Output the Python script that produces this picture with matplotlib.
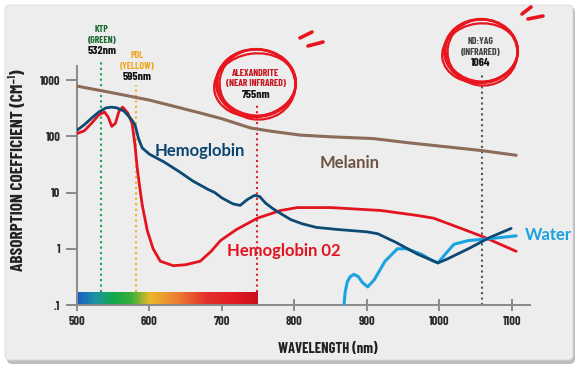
import numpy as np
import matplotlib
matplotlib.use("Agg")
import matplotlib.pyplot as plt
from matplotlib.patches import FancyBboxPatch, Ellipse
from matplotlib.colors import LinearSegmentedColormap

# absorption spectra (wavelength nm, coefficient cm^-1)
hb_wl = [500, 510, 520, 530, 540, 548, 555, 565, 575, 580, 585, 590, 600, 620, 640, 660, 680,
         690, 700, 715, 725, 735, 745, 752, 760, 770, 780, 795, 810, 830, 860, 900, 915, 940,
         970, 998, 1010, 1040, 1070, 1099]
hb_val = [128, 160, 210, 270, 320, 330, 320, 280, 200, 160, 90, 62, 48, 35, 24, 16, 11.5,
          10, 8, 6.3, 5.9, 7.5, 8.9, 8.5, 6.5, 5.2, 4.3, 3.3, 2.8, 2.4, 2.2, 2.0, 1.85, 1.3,
          0.8, 0.56, 0.65, 1.0, 1.6, 2.3]

hbo2_wl = [500, 510, 520, 530, 538, 543, 548, 553, 558, 563, 570, 576, 580, 583, 586, 590, 597,
           605, 615, 633, 650, 670, 685, 698, 720, 749, 781, 804, 850, 919, 970, 992, 1030,
           1062, 1106]
hbo2_val = [112, 125, 170, 240, 270, 220, 150, 170, 280, 330, 260, 170, 70, 28, 14, 6, 2.1,
            1.0, 0.6, 0.5, 0.52, 0.6, 0.9, 1.4, 2.2, 3.5, 4.8, 5.4, 5.4, 4.8, 3.9, 3.5, 2.3,
            1.6, 0.9]

water_wl = [868, 870, 873, 877, 882, 888, 894, 901, 910, 925, 942, 955, 975, 990, 998, 1008,
            1020, 1040, 1067, 1106]
water_val = [0.09, 0.17, 0.26, 0.32, 0.35, 0.32, 0.25, 0.21, 0.28, 0.6, 1.0, 1.0, 0.8, 0.62,
             0.56, 0.8, 1.2, 1.4, 1.5, 1.7]

mel_wl = [500, 550, 600, 670, 700, 740, 770, 808, 850, 909, 960, 1000, 1057, 1106]
mel_val = [780, 590, 440, 260, 205, 140, 122, 105, 98, 91, 76, 67, 56, 46]

# laser lines: position drawn, label lines
laser_x = [533, 582, 748, 1059]
laser_names = ["KTP\n(GREEN)", "PDL\n(YELLOW)", "ALEXANDRITE\n(NEAR INFRARED)", "ND:YAG\n(INFRARED)"]
laser_nm = ["532nm", "595nm", "755nm", "1064"]

y_ticks = [0.1, 1, 10, 100, 1000]
y_ticklabels = [".1", "1", "10", "100", "1000"]
x_ticks = [500, 600, 700, 800, 900, 1000, 1100]

cond = ["Barlow Condensed", "Roboto Condensed", "DejaVu Sans"]
sans = ["Lato", "DejaVu Sans"]
W, H = 580, 368

fig = plt.figure(figsize=(5.8, 3.68), dpi=100)
fig.patch.set_facecolor("white")

# background card
bg = fig.add_axes([0, 0, 1, 1], zorder=0)
bg.set_xlim(0, W)
bg.set_ylim(H, 0)
bg.axis("off")
bg.add_patch(FancyBboxPatch((7, 7), 568, 357, boxstyle="round,pad=0,rounding_size=5",
                            fc="#bdbdbd", ec="none"))
bg.add_patch(FancyBboxPatch((5, 5), 568, 355, boxstyle="round,pad=0,rounding_size=5",
                            fc="#ededed", ec="#d8d8d8", lw=0.6))

ax = fig.add_axes([77 / W, (H - 305) / H, (530 - 77) / W, (305 - 66) / H], zorder=1)
ax.patch.set_alpha(0)
ax.set_yscale("log")
ax.set_xlim(500, 1125)
ax.set_ylim(0.1, 10 ** 3.25)

for s in ["top", "right"]:
    ax.spines[s].set_visible(False)
for s in ["left", "bottom"]:
    ax.spines[s].set_color("#8a8a8a")
    ax.spines[s].set_linewidth(1.4)
ax.set_yticks(y_ticks)
ax.set_yticklabels(y_ticklabels)
ax.yaxis.set_minor_locator(matplotlib.ticker.NullLocator())
ax.set_xticks(x_ticks)
ax.tick_params(axis="both", width=1.4, color="#8a8a8a", labelsize=9,
               labelcolor="#2b2b2b", pad=4)
ax.tick_params(axis="x", direction="inout", length=8)
ax.tick_params(axis="y", direction="out", length=8)
for lab in ax.get_xticklabels() + ax.get_yticklabels():
    lab.set_family(cond)
    lab.set_fontweight("bold")

ax.set_ylabel("ABSORPTION COEFFICIENT (CM⁻¹)", family=cond, fontweight="bold",
              fontsize=12.5, color="#222222")
ax.yaxis.set_label_coords((26 - 77) / 453, 0.565)
fig.text(328 / W, 1 - 349 / H, "WAVELENGTH (nm)", family=cond, fontweight="bold",
         fontsize=10.5, color="#222222", ha="center", va="center")

# visible spectrum bar along the bottom
spec = LinearSegmentedColormap.from_list("spec", [
    (0.0, "#1a60c4"), (0.1, "#1a95a0"), (0.2, "#12a84a"), (0.3, "#38b03a"),
    (0.4, "#e8b82a"), (0.55, "#ec8030"), (0.72, "#e2302a"), (0.88, "#e01a22"), (1.0, "#c80f1c")])
bx = np.linspace(500, 750, 101)
ax.pcolormesh(bx, [0.1, 0.17], np.linspace(0, 1, 100)[None, :], cmap=spec, shading="flat",
              zorder=2)

# laser lines
xt = ax.get_xaxis_transform()
line_cols = ["#16a34a", "#f0ae2a", "#d9202a", "#555555"]
line_tops = [1.017, 0.92, 0.84, 0.975]
line_bots = [0.054, 0.054, 0.054, 0.0]
for x, c, t, b in zip(laser_x, line_cols, line_tops, line_bots):
    ax.plot([x, x], [b, t], transform=xt, color=c, lw=1.5, ls=(0, (1, 1.6)),
            clip_on=False, zorder=1)

# curves
ax.plot(mel_wl, mel_val, color="#8c6b58", lw=2.2, zorder=3, solid_capstyle="round")
ax.plot(hbo2_wl, hbo2_val, color="#e3141f", lw=2.0, zorder=4, solid_capstyle="round")
ax.plot(water_wl, water_val, color="#1aa3e0", lw=2.2, zorder=4, solid_capstyle="round")
ax.plot(hb_wl, hb_val, color="#0d4a73", lw=2.0, zorder=5, solid_capstyle="round")

# curve labels (figure pixels)
def ftext(x, y, s, **kw):
    fig.text(x / W, 1 - y / H, s, **kw)

ftext(155, 151, "Hemoglobin", family=sans, fontweight="bold", fontsize=12, color="#0b4470",
      va="center")
ftext(320, 163, "Melanin", family=sans, fontweight="bold", fontsize=12, color="#6e5444",
      va="center")
ftext(227, 251, "Hemoglobin 02", family=sans, fontweight="bold", fontsize=12, color="#e3141f",
      va="center")
ftext(525, 235, "Water", family=sans, fontweight="bold", fontsize=12, color="#1aa3e0",
      va="center")

# laser annotations above the plot
name_cols = ["#1d6b30", "#f0a820", "#c8141e", "#444444"]
label_pos = [(102, 30), (137, 56), (256, 73), (481, 42)]
for (px, py), name, nm, c in zip(label_pos, laser_names, laser_nm, name_cols):
    first, second = name.split("\n")
    ftext(px, py, first, family=cond, fontweight="bold", fontsize=7, color=c,
          ha="center", va="center")
    ftext(px, py + 10.5, second, family=cond, fontweight="bold", fontsize=7, color=c,
          ha="center", va="center")
    ftext(px, py + 21.5, nm, family=cond, fontweight="bold", fontsize=8.5, color="#111111",
          ha="center", va="center")

# hand drawn circles and scribbles on top
fg = fig.add_axes([0, 0, 1, 1], zorder=3)
fg.set_xlim(0, W)
fg.set_ylim(H, 0)
fg.axis("off")
fg.patch.set_alpha(0)
for cx, cy, rx, ry in [(256, 83, 40, 34), (481, 51, 37, 32)]:
    for dx, dy, drx, dry, ang in [(0, 0, 0, 0, 0), (1.5, 1.5, -2, 1, 10), (-1, 2, 1, -2.5, -8),
                                  (0.5, -0.5, -1, -1, 4)]:
        fg.add_patch(Ellipse((cx + dx, cy + dy), 2 * (rx + drx), 2 * (ry + dry), angle=ang,
                             fill=False, ec="#e8141e", lw=1.6))
for (x0, y0), (x1, y1) in [((300, 38), (312, 32)), ((308, 46), (323, 42)),
                           ((522, 14), (531, 7)), ((528, 19), (543, 16))]:
    fg.plot([x0, x1], [y0, y1], color="#e8141e", lw=2.6, solid_capstyle="round")

fig.savefig("out.png", dpi=100, facecolor="white")
